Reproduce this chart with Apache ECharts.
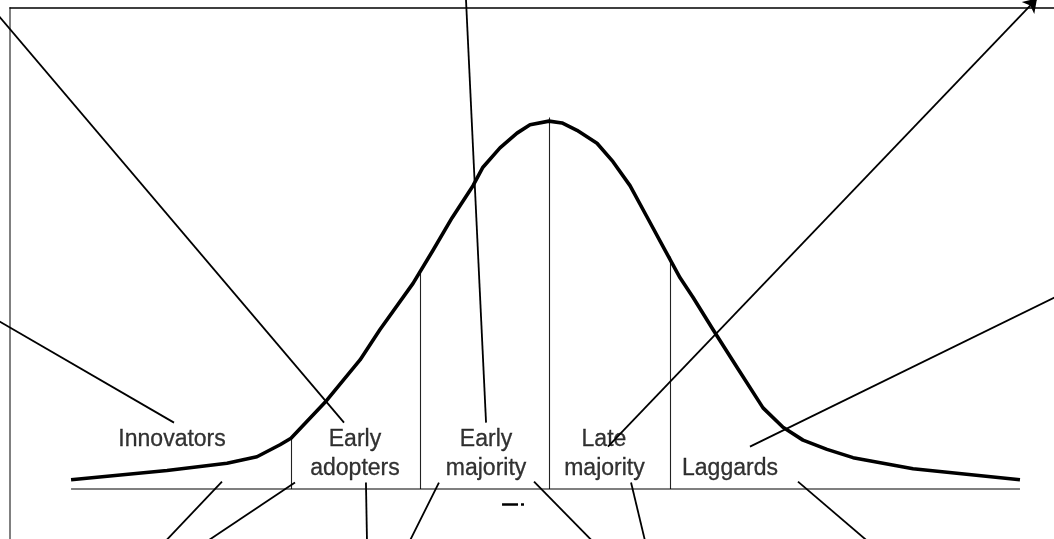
<!DOCTYPE html>
<html>
<head>
<meta charset="utf-8">
<script src="https://cdn.jsdelivr.net/npm/echarts@6/dist/echarts.min.js"></script>
<style>html,body{margin:0;padding:0;background:#fff;}#c{width:1054px;height:539px;}</style>
</head>
<body>
<div id="c"></div>
<script>
// Adoption curve (x in standard deviations from the mean, y = share density)
const curveX = [-3.705,-2.961,-2.496,-2.264,-2.085,-2.0,-1.736,-1.465,-1.310,-1.054,-0.899,-0.752,-0.589,-0.512,-0.380,-0.248,-0.147,0,0.101,0.217,0.372,0.496,0.628,0.760,0.899,1.016,1.116,1.271,1.457,1.659,1.814,1.969,2.155,2.357,2.822,3.651];
const curveY = [0.010,0.020,0.028,0.035,0.048,0.055,0.094,0.140,0.173,0.223,0.259,0.294,0.329,0.349,0.370,0.386,0.395,0.399,0.397,0.389,0.375,0.355,0.329,0.295,0.259,0.229,0.208,0.173,0.132,0.088,0.067,0.053,0.043,0.034,0.022,0.010];

// Category dividers
const dividerX = [-2.0, -1.0, 0, 0.938];
const dividerTop = [0.055, 0.236, 0.403, 0.252];

// Category labels
const labelText = ['Innovators','Early','adopters','Early','majority','Late','majority','Laggards'];
const labelX = [-2.922,-1.504,-1.504,-0.488,-0.488,0.426,0.430,1.403];
const labelY = [0.0531,0.0531,0.0217,0.0531,0.0217,0.0531,0.0217,0.0217];

// Leader lines [from, to]
const leaderFrom = [[-4.35,0.527],[-0.650,0.550],[-4.35,0.189],[3.98,0.212],[-2.535,0.008],[-1.969,0.007],[-1.419,0.007],[-0.853,0.007],[-0.116,0.008],[0.636,0.007],[1.930,0.008]];
const leaderTo   = [[-1.589,0.072],[-0.488,0.072],[-2.907,0.072],[1.558,0.046],[-2.969,-0.056],[-2.643,-0.056],[-1.411,-0.056],[-1.078,-0.056],[0.333,-0.056],[0.744,-0.056],[2.465,-0.056]];
const arrowFrom = [0.457,0.046];
const arrowTo = [3.783,0.532];

// Small mark under the axis
const markFrom = [[-0.364,-0.0163],[-0.217,-0.0163]];
const markTo   = [[-0.240,-0.0163],[-0.194,-0.0163]];

const chart = echarts.init(document.getElementById('c'), null, {renderer:'canvas'});
const hidden = {show:false};
const font = "'Liberation Sans', Arial, sans-serif";

chart.setOption({
  animation:false,
  backgroundColor:'#fff',
  grid:[
    {left:-18.6, top:-64.2, width:1109.4, height:645.4, containLabel:false, outerBoundsMode:'none'},
    {left:10, top:8, right:0, bottom:0, containLabel:false, outerBoundsMode:'none'}
  ],
  xAxis:[
    {type:'value', gridIndex:0, min:-4.4, max:4.2, axisLine:hidden, axisTick:hidden, axisLabel:hidden, splitLine:hidden},
    {type:'value', gridIndex:1, min:0, max:1, position:'top',
     axisLine:{show:true, onZero:false, lineStyle:{color:'#000', width:1.5}},
     axisTick:hidden, axisLabel:hidden, splitLine:hidden}
  ],
  yAxis:[
    {type:'value', gridIndex:0, min:-0.1, max:0.6, axisLine:hidden, axisTick:hidden, axisLabel:hidden, splitLine:hidden},
    {type:'value', gridIndex:1, min:0, max:1, position:'left',
     axisLine:{show:true, onZero:false, lineStyle:{color:'#808080', width:2}},
     axisTick:hidden, axisLabel:hidden, splitLine:hidden}
  ],
  series:[
    {
      type:'line', xAxisIndex:0, yAxisIndex:0, silent:true, symbol:'none',
      data:[[curveX[0],0],[curveX[curveX.length-1],0]],
      lineStyle:{color:'#000', width:1.2}
    },
    {
      type:'lines', coordinateSystem:'cartesian2d', xAxisIndex:0, yAxisIndex:0, silent:true,
      data: dividerX.map((x,i)=>({coords:[[x,0],[x,dividerTop[i]]]})),
      lineStyle:{color:'#222', width:1.1, opacity:1}
    },
    {
      type:'line', xAxisIndex:0, yAxisIndex:0, silent:true, symbol:'none', smooth:false,
      data: curveX.map((x,i)=>[x,curveY[i]]),
      lineStyle:{color:'#000', width:3.6, join:'round'}
    },
    {
      type:'lines', coordinateSystem:'cartesian2d', xAxisIndex:0, yAxisIndex:0, silent:true,
      data: leaderFrom.map((f,i)=>({coords:[f, leaderTo[i]]})),
      lineStyle:{color:'#000', width:1.8, opacity:1}
    },
    {
      type:'lines', coordinateSystem:'cartesian2d', xAxisIndex:0, yAxisIndex:0, silent:true,
      symbol:['none','arrow'], symbolSize:[9,13],
      data:[{coords:[arrowFrom, arrowTo]}],
      lineStyle:{color:'#000', width:1.8, opacity:1}
    },
    {
      type:'lines', coordinateSystem:'cartesian2d', xAxisIndex:0, yAxisIndex:0, silent:true,
      data: markFrom.map((f,i)=>({coords:[f, markTo[i]]})),
      lineStyle:{color:'#000', width:2.5, opacity:1}
    },
    {
      type:'scatter', xAxisIndex:0, yAxisIndex:0, silent:true, symbolSize:0,
      data: labelText.map((t,i)=>[labelX[i], labelY[i], t]),
      label:{show:true, position:'inside', formatter:p=>p.data[2],
             color:'#000', fontSize:23, fontFamily:font, align:'center', verticalAlign:'middle',
             textBorderColor:'#000', textBorderWidth:0.3}
    }
  ]
});
</script>
</body>
</html>
